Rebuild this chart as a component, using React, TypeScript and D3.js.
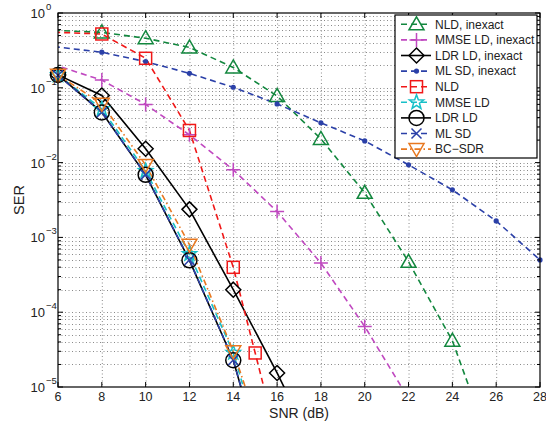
import React from "react";
import * as d3 from "d3";

// ---------- data ----------
const xTicks = [6, 8, 10, 12, 14, 16, 18, 20, 22, 24, 26, 28];
const yTickExps = [0, -1, -2, -3, -4, -5];

const snrNLDi = [4, 8, 10, 12, 14, 16, 18, 20, 22, 24, 26];
const serNLDi = [0.62, 0.55, 0.46, 0.346, 0.187, 0.0778, 0.0207, 0.00394, 4.72e-4, 4.16e-5, 1e-6];

const snrMMSEi = [4, 8, 10, 12, 14, 16, 18, 20, 22];
const serMMSEi = [0.3, 0.127, 0.06, 0.0235, 0.008, 0.00222, 4.53e-4, 6.45e-5, 7e-6];

const snrLDRi = [6, 8, 10, 12, 14, 16, 18];
const serLDRi = [0.1485, 0.079, 0.0153, 0.00237, 2.0e-4, 1.54e-5, 1e-6];

const snrMLi = [4, 8, 10, 12, 14, 16, 18, 20, 22, 24, 26, 28];
const serMLi = [0.41, 0.299, 0.224, 0.156, 0.1017, 0.0609, 0.034, 0.0195, 0.00933, 0.00432, 0.00166, 5.0e-4];

const snrNLD = [4, 8, 10, 12, 14, 15, 16];
const serNLD = [0.58, 0.524, 0.248, 0.0269, 3.98e-4, 2.85e-5, 2e-6];

const snrMMSE = [6, 8, 10, 12, 14, 16];
const serMMSE = [0.148, 0.052, 0.00775, 6.0e-4, 2.87e-5, 3e-7];

const snrLDR = [6, 8, 10, 12, 14, 16];
const serLDR = [0.1485, 0.0469, 0.00686, 4.94e-4, 2.28e-5, 2e-7];

const snrML = [6, 8, 10, 12, 14, 16];
const serML = [0.147, 0.047, 0.0069, 5.0e-4, 2.3e-5, 2e-7];

const snrBC = [6, 8, 10, 12, 14, 16];
const serBC = [0.149, 0.061, 0.0093, 8.0e-4, 3.0e-5, 5.5e-7];

type Series = {
  name: string;
  x: number[];
  y: number[];
  color: string;
  dash: string;
  marker: string;
};

const series: Series[] = [
  { name: "NLD, inexact", x: snrNLDi, y: serNLDi, color: "#12873e", dash: "6,4", marker: "tri" },
  { name: "MMSE LD, inexact", x: snrMMSEi, y: serMMSEi, color: "#c048c0", dash: "6,4", marker: "plus" },
  { name: "LDR LD, inexact", x: snrLDRi, y: serLDRi, color: "#000000", dash: "", marker: "diamond" },
  { name: "ML SD, inexact", x: snrMLi, y: serMLi, color: "#2b40a8", dash: "6,4", marker: "dot" },
  { name: "NLD", x: snrNLD, y: serNLD, color: "#f01818", dash: "6,4", marker: "square" },
  { name: "MMSE LD", x: snrMMSE, y: serMMSE, color: "#18c0c8", dash: "6,4", marker: "star" },
  { name: "LDR LD", x: snrLDR, y: serLDR, color: "#000000", dash: "", marker: "circle" },
  { name: "ML SD", x: snrML, y: serML, color: "#2b40a8", dash: "6,4", marker: "x" },
  { name: "BC\u2212SDR", x: snrBC, y: serBC, color: "#e87820", dash: "6,3,1.5,3", marker: "tridown" },
];

// ---------- layout ----------
const W = 546;
const H = 428;
const L = 58;
const R = 540;
const T = 13;
const B = 387;
const FONT = "'Liberation Sans', Arial, Helvetica, sans-serif";

const xScale = d3.scaleLinear().domain([6, 28]).range([L, R]);
const yScale = d3.scaleLog().domain([1e-5, 1]).range([B, T]);

function Marker({ type, x, y, color }: { type: string; x: number; y: number; color: string }) {
  const sw = 1.5;
  const common = { fill: "none", stroke: color, strokeWidth: sw };
  switch (type) {
    case "tri":
      return <polygon {...common} points={`${x},${y - 7.5} ${x + 7.5},${y + 5.5} ${x - 7.5},${y + 5.5}`} />;
    case "tridown":
      return <polygon {...common} points={`${x},${y + 7.5} ${x + 7.5},${y - 5.5} ${x - 7.5},${y - 5.5}`} />;
    case "square":
      return <rect {...common} x={x - 6} y={y - 6} width={12} height={12} />;
    case "diamond":
      return <polygon {...common} points={`${x},${y - 7.5} ${x + 7.5},${y} ${x},${y + 7.5} ${x - 7.5},${y}`} />;
    case "circle":
      return <circle {...common} cx={x} cy={y} r={7.5} />;
    case "dot":
      return <circle fill={color} stroke="none" cx={x} cy={y} r={2.6} />;
    case "plus":
      return (
        <path {...common} d={`M${x - 7},${y}H${x + 7}M${x},${y - 7}V${y + 7}`} />
      );
    case "x":
      return (
        <path {...common} d={`M${x - 5},${y - 5}L${x + 5},${y + 5}M${x - 5},${y + 5}L${x + 5},${y - 5}`} />
      );
    case "star": {
      const pts: string[] = [];
      for (let i = 0; i < 10; i++) {
        const r = i % 2 === 0 ? 7.5 : 3.1;
        const a = -Math.PI / 2 + (i * Math.PI) / 5;
        pts.push(`${x + r * Math.cos(a)},${y + r * Math.sin(a)}`);
      }
      return <polygon {...common} points={pts.join(" ")} />;
    }
    default:
      return null;
  }
}

export default function App() {
  const line = d3
    .line<[number, number]>()
    .x((d) => xScale(d[0]))
    .y((d) => yScale(d[1]));

  // grid lines
  const minorY: number[] = [];
  for (let e = -5; e < 0; e++) {
    for (let m = 2; m <= 9; m++) minorY.push(m * Math.pow(10, e));
  }
  const majorY = yTickExps.map((e) => Math.pow(10, e));

  const gridColor = "#8a8a8a";
  const gridDash = "1,2.5";

  const legX = 395;
  const legY = 15;
  const legW = 142;
  const legH = 143;
  const rowH = 15.6;

  return (
    <svg
      width={W}
      height={H}
      style={{ position: "absolute", left: 0, top: 0, background: "#fff" }}
      fontFamily={FONT}
    >
      <defs>
        <clipPath id="plotclip">
          <rect x={L} y={T} width={R - L} height={B - T} />
        </clipPath>
      </defs>
      <rect x={0} y={0} width={W} height={H} fill="#fff" />

      {/* grid */}
      <g stroke={gridColor} strokeWidth={1} strokeDasharray={gridDash} fill="none">
        {xTicks.slice(1, -1).map((t) => (
          <line key={"gx" + t} x1={xScale(t) + 0.5} x2={xScale(t) + 0.5} y1={T} y2={B} />
        ))}
        {minorY.concat(majorY.slice(1, -1)).map((v, i) => (
          <line key={"gy" + i} x1={L} x2={R} y1={Math.round(yScale(v)) + 0.5} y2={Math.round(yScale(v)) + 0.5} />
        ))}
      </g>

      {/* series lines */}
      <g clipPath="url(#plotclip)">
        {series.map((s) => (
          <path
            key={"l" + s.name}
            d={line(s.x.map((x, i) => [x, s.y[i]] as [number, number])) || ""}
            fill="none"
            stroke={s.color}
            strokeWidth={1.6}
            strokeDasharray={s.dash || undefined}
          />
        ))}
      </g>
      {/* markers */}
      <g>
        {series.map((s) =>
          s.x.map((x, i) => {
            if (x < 6 || x > 28 || s.y[i] < 1e-5 || s.y[i] > 1) return null;
            return <Marker key={s.name + i} type={s.marker} x={xScale(x)} y={yScale(s.y[i])} color={s.color} />;
          })
        )}
      </g>

      {/* axes box */}
      <rect x={L} y={T} width={R - L} height={B - T} fill="none" stroke="#000" strokeWidth={1.2} />

      {/* ticks */}
      <g stroke="#000" strokeWidth={1}>
        {xTicks.map((t) => (
          <g key={"xt" + t}>
            <line x1={xScale(t)} x2={xScale(t)} y1={B} y2={B - 5} />
            <line x1={xScale(t)} x2={xScale(t)} y1={T} y2={T + 5} />
          </g>
        ))}
        {majorY.map((v, i) => (
          <g key={"yt" + i}>
            <line x1={L} x2={L + 5} y1={yScale(v)} y2={yScale(v)} />
            <line x1={R} x2={R - 5} y1={yScale(v)} y2={yScale(v)} />
          </g>
        ))}
        {minorY.map((v, i) => (
          <g key={"ymt" + i}>
            <line x1={L} x2={L + 3} y1={yScale(v)} y2={yScale(v)} />
            <line x1={R} x2={R - 3} y1={yScale(v)} y2={yScale(v)} />
          </g>
        ))}
      </g>

      {/* tick labels */}
      <g fill="#222" fontSize={12.5}>
        {xTicks.map((t) => (
          <text key={"xl" + t} x={xScale(t)} y={400.5} textAnchor="middle">
            {t}
          </text>
        ))}
        {yTickExps.map((e) => (
          <g key={"yl" + e}>
            <text x={45} y={yScale(Math.pow(10, e)) + 5} textAnchor="end" fontSize={13}>
              10
            </text>
            <text x={46} y={yScale(Math.pow(10, e)) - 3} textAnchor="start" fontSize={9.5}>
              {e === 0 ? "0" : "\u2212" + Math.abs(e)}
            </text>
          </g>
        ))}
      </g>

      {/* axis labels */}
      <text x={299} y={417.5} textAnchor="middle" fontSize={14} fill="#222">
        SNR (dB)
      </text>
      <text
        transform={`translate(24,${(T + B) / 2}) rotate(-90)`}
        textAnchor="middle"
        fontSize={14.5}
        fill="#222"
      >
        SER
      </text>

      {/* legend */}
      <rect x={legX} y={legY} width={legW} height={legH} fill="#fff" stroke="#000" strokeWidth={1.2} />
      {series.map((s, i) => {
        const cy = legY + 9.3 + i * rowH;
        return (
          <g key={"lg" + s.name}>
            <line
              x1={legX + 6}
              x2={legX + 36}
              y1={cy}
              y2={cy}
              stroke={s.color}
              strokeWidth={1.6}
              strokeDasharray={s.dash || undefined}
            />
            <Marker type={s.marker} x={legX + 21.5} y={cy} color={s.color} />
            <text x={legX + 40} y={cy + 4.3} fontSize={12} fill="#222">
              {s.name}
            </text>
          </g>
        );
      })}
    </svg>
  );
}
